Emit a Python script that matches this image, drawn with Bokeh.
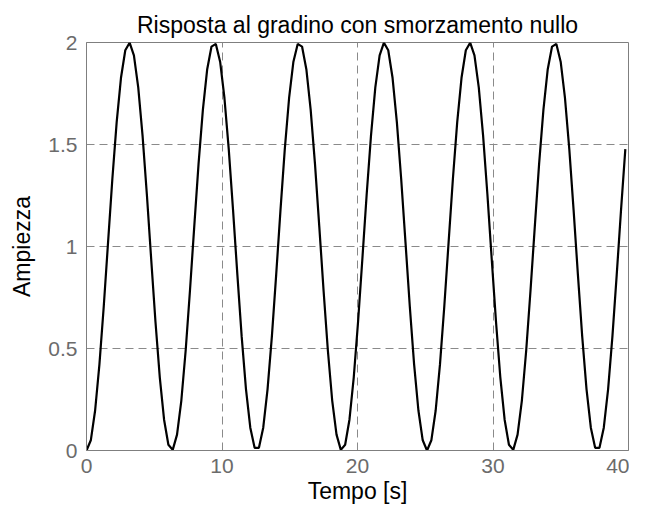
from bokeh.plotting import figure
from bokeh.models import Range1d, FixedTicker
from bokeh.embed import file_html
from bokeh.resources import INLINE

# Sample times [s]
tempo = [
    0.000, 0.318, 0.636, 0.954, 1.273, 1.591, 1.909, 2.227, 2.545, 2.863,
    3.181, 3.499, 3.818, 4.136, 4.454, 4.772, 5.090, 5.408, 5.726, 6.044,
    6.363, 6.681, 6.999, 7.317, 7.635, 7.953, 8.271, 8.590, 8.908, 9.226,
    9.544, 9.862, 10.180, 10.498, 10.816, 11.135, 11.453, 11.771, 12.089, 12.407,
    12.725, 13.043, 13.361, 13.680, 13.998, 14.316, 14.634, 14.952, 15.270, 15.588,
    15.907, 16.225, 16.543, 16.861, 17.179, 17.497, 17.815, 18.133, 18.452, 18.770,
    19.088, 19.406, 19.724, 20.042, 20.360, 20.678, 20.997, 21.315, 21.633, 21.951,
    22.269, 22.587, 22.905, 23.223, 23.542, 23.860, 24.178, 24.496, 24.814, 25.132,
    25.450, 25.769, 26.087, 26.405, 26.723, 27.041, 27.359, 27.677, 27.995, 28.314,
    28.632, 28.950, 29.268, 29.586, 29.904, 30.222, 30.540, 30.859, 31.177, 31.495,
    31.813, 32.131, 32.449, 32.767, 33.086, 33.404, 33.722, 34.040, 34.358, 34.676,
    34.994, 35.312, 35.631, 35.949, 36.267, 36.585, 36.903, 37.221, 37.539, 37.857,
    38.176, 38.494, 38.812, 39.130, 39.448, 39.766,
]

# Amplitude at each sample
ampiezza = [
    0.000, 0.050, 0.196, 0.422, 0.706, 1.020, 1.332, 1.610, 1.827, 1.962,
    1.999, 1.937, 1.780, 1.545, 1.256, 0.940, 0.631, 0.359, 0.151, 0.028,
    0.003, 0.078, 0.245, 0.489, 0.783, 1.099, 1.406, 1.671, 1.869, 1.980,
    1.993, 1.906, 1.728, 1.477, 1.178, 0.861, 0.558, 0.300, 0.112, 0.013,
    0.013, 0.112, 0.300, 0.558, 0.861, 1.178, 1.477, 1.728, 1.906, 1.993,
    1.980, 1.869, 1.671, 1.406, 1.099, 0.783, 0.489, 0.245, 0.078, 0.003,
    0.028, 0.151, 0.359, 0.631, 0.940, 1.256, 1.545, 1.780, 1.937, 1.999,
    1.962, 1.827, 1.610, 1.332, 1.020, 0.706, 0.422, 0.196, 0.050,
    0.000, 0.050, 0.196, 0.422, 0.706, 1.020, 1.332, 1.610, 1.827, 1.962,
    1.999, 1.937, 1.780, 1.545, 1.256, 0.940, 0.631, 0.359, 0.151, 0.028,
    0.003, 0.078, 0.245, 0.489, 0.783, 1.099, 1.406, 1.671, 1.869, 1.980,
    1.993, 1.906, 1.728, 1.477, 1.178, 0.861, 0.558, 0.300, 0.112, 0.013,
    0.013, 0.112, 0.300, 0.558, 0.861, 1.178, 1.477,
]

x_ticks = [0, 10, 20, 30, 40]
y_ticks = [0, 0.5, 1, 1.5, 2]
y_tick_labels = {0: "0", 0.5: "0.5", 1: "1", 1.5: "1.5", 2: "2"}
x_grid = [10, 20, 30]
y_grid = [0.5, 1, 1.5]
titolo = "Risposta al gradino con smorzamento nullo"
x_label = "Tempo [s]"
y_label = "Ampiezza"

FONT = "Liberation Sans"
AX = "#7f7f7f"
TXT = "#6b6b6b"

p = figure(width=629, height=506, output_backend="svg", toolbar_location=None,
           x_range=Range1d(0, 40), y_range=Range1d(0, 2),
           min_border_left=86, min_border_right=1, min_border_top=42,
           min_border_bottom=56, title=titolo)

p.line(tempo, ampiezza, line_color="black", line_width=2.2)

p.title.align = "center"
p.title.text_font = FONT
p.title.text_font_size = "23px"
p.title.text_font_style = "normal"
p.title.text_color = "black"
p.title.standoff = 9

for ax, ticks in ((p.xaxis[0], x_ticks), (p.yaxis[0], y_ticks)):
    ax.ticker = FixedTicker(ticks=ticks)
    ax.axis_line_color = AX
    ax.axis_line_width = 1
    ax.major_tick_line_color = None
    ax.minor_tick_line_color = None
    ax.major_tick_out = 0
    ax.major_tick_in = 0
    ax.minor_tick_out = 0
    ax.minor_tick_in = 0
    ax.major_label_text_font = FONT
    ax.major_label_text_font_size = "21px"
    ax.major_label_text_color = TXT
    ax.axis_label_text_font = FONT
    ax.axis_label_text_font_size = "23px"
    ax.axis_label_text_font_style = "normal"
    ax.axis_label_text_color = "black"

p.xaxis.axis_label = x_label
p.yaxis.axis_label = y_label
p.yaxis.major_label_overrides = y_tick_labels
p.xaxis.major_label_standoff = 8
p.xaxis.axis_label_standoff = 2
p.yaxis.major_label_standoff = 9
p.yaxis.axis_label_standoff = 10

p.xgrid.ticker = FixedTicker(ticks=x_grid)
p.ygrid.ticker = FixedTicker(ticks=y_grid)
for g in (p.xgrid, p.ygrid):
    g.grid_line_color = "#8a8a8a"
    g.grid_line_dash = "8 5"
    g.grid_line_width = 1

p.outline_line_color = AX
p.outline_line_width = 1
p.background_fill_color = "white"
p.border_fill_color = "white"

open("out.html", "w").write(file_html(p, INLINE))
